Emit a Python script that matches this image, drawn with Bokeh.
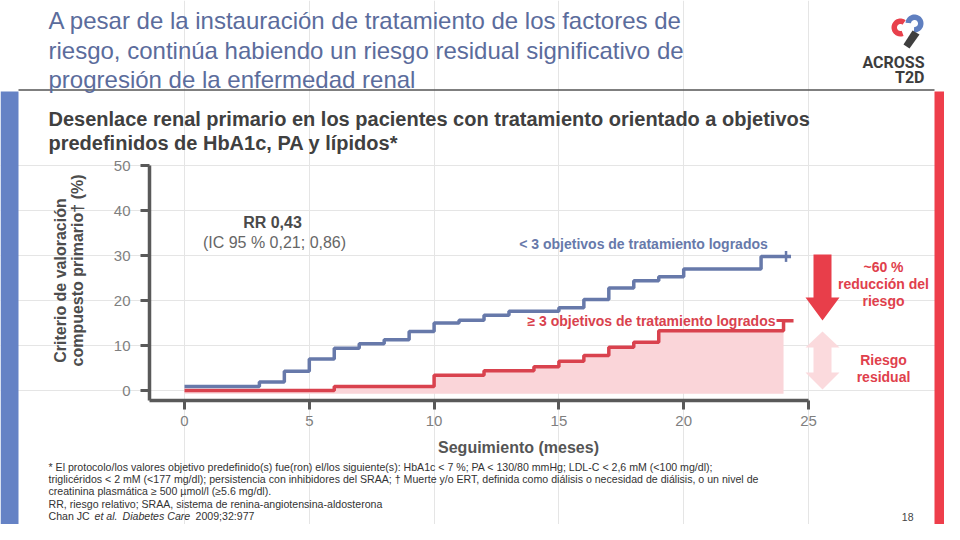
import numpy as np
from bokeh.plotting import figure
from bokeh.models import Range1d, LinearAxis, FixedTicker
from bokeh.core.properties import value
from bokeh.embed import file_html
from bokeh.resources import INLINE

# ---------------- data ----------------
months_lt3 = [0, 3, 4, 5, 6, 7, 8, 9, 10, 11, 12, 13, 15, 16, 17, 18, 19, 20, 23.1, 24.3]
pct_lt3 = [0.9, 1.9, 4.3, 7.0, 9.4, 10.4, 11.3, 13.1, 15.0, 15.6, 16.7, 17.6, 18.4, 20.2,
           22.8, 24.4, 25.3, 27.0, 29.8, 29.8]
months_ge3 = [0, 6, 10, 12, 14, 15, 16, 17, 18, 19, 24.0, 24.4]
pct_ge3 = [0.0, 0.9, 3.4, 4.4, 5.3, 6.5, 7.8, 9.6, 10.7, 13.3, 15.5, 15.5]
censor_months = [24.1]
censor_pct = [29.8]
x_ticks = [0, 5, 10, 15, 20, 25]
y_ticks = [0, 10, 20, 30, 40, 50]
fill_floor = -0.7

# ---------------- geometry ----------------
W, H = 944, 524
OFF = 0  # reference pixel -> canvas pixel
X0_REF, X25_REF = 184, 808
Y0_REF, Y50_REF = 390, 165
sx = (X25_REF - X0_REF) / 25.0
sy = (Y0_REF - Y50_REF) / 50.0
cx0 = X0_REF - OFF
cy0 = Y0_REF - OFF


def dx(ref_px):
    return (ref_px - X0_REF) / sx


def dy(ref_py):
    return (Y0_REF - ref_py) / sy


FONT = "Liberation Sans"
TITLE_C = "#5b6c9c"
DARK = "#404040"
AXIS_C = "#595959"
BLUE = "#6779aa"
RED = "#d9424e"
FILL = "#fad5d9"
ARROW_RED = "#e83e4a"
ARROW_PINK = "#fbdadd"
STRIPE_BLUE = "#6582c5"
STRIPE_RED = "#ee3e4b"

p = figure(width=W, height=H,
           x_range=Range1d(-cx0 / sx, (W - cx0) / sx),
           y_range=Range1d(-(H - cy0) / sy, cy0 / sy),
           min_border=0, toolbar_location=None, output_backend="svg",
           x_axis_location=None, y_axis_location=None)
p.outline_line_color = None
p.background_fill_color = "white"
p.border_fill_color = "white"
p.extra_x_ranges = {"px": Range1d(0, W)}
p.extra_y_ranges = {"px": Range1d(H, 0)}

PX = dict(x_range_name="px", y_range_name="px")


def R(v):
    return v - OFF


def txt(x, y, s, size, color, style="normal", align="left", baseline="middle",
        font=FONT, angle=0.0):
    p.text(x=[R(x)], y=[R(y)], text=[s], text_font=value(font),
           text_font_size=f"{size}px", text_font_style=style, text_color=color,
           text_align=align, text_baseline=baseline, angle=angle, **PX)


def poly(pts, color):
    xs = [R(a) for a, b in pts]
    ys = [R(b) for a, b in pts]
    p.patch(xs, ys, fill_color=color, line_color=None, **PX)


# ---------------- page decorations ----------------
p.quad(left=[R(0)], right=[R(18)], top=[R(91)], bottom=[R(545)],
       fill_color=STRIPE_BLUE, line_color=None, **PX)
p.quad(left=[R(934)], right=[R(965)], top=[R(91)], bottom=[R(545)],
       fill_color=STRIPE_RED, line_color=None, **PX)
p.segment(x0=[R(18)], y0=[R(89.5)], x1=[R(934)], y1=[R(89.5)],
          line_color="#555555", line_width=1.5, **PX)

# title
for i, line in enumerate(["A pesar de la instauración de tratamiento de los factores de",
                          "riesgo, continúa habiendo un riesgo residual significativo de",
                          "progresión de la enfermedad renal"]):
    txt(48, 20 + i * 29.5, line, 24, TITLE_C)

# logo
def ring(cx, cy, r1, r2, a0, a1, n=40):
    a = np.radians(np.linspace(a0, a1, n))
    outer = [(cx + r2 * np.cos(t), cy - r2 * np.sin(t)) for t in a]
    inner = [(cx + r1 * np.cos(t), cy - r1 * np.sin(t)) for t in a[::-1]]
    return outer + inner


poly(ring(900, 27, 3.5, 9, 55, 290), "#e8404c")
poly(ring(914, 23, 3.5, 9, -95, 175), "#5f7fc0")
poly([(912, 30), (919, 34), (909, 48), (903, 44)], "#3f3f3f")
txt(924, 62, "ACROSS", 16, "#3d3d3d", style="bold", align="right", font="Roboto")
txt(924, 77, "T2D", 16, "#3d3d3d", style="bold", align="right", font="Roboto")

# subtitle
txt(48, 118, "Desenlace renal primario en los pacientes con tratamiento orientado a objetivos",
    20, DARK, style="bold")
txt(48, 142, "predefinidos de HbA1c, PA y lípidos*", 20, DARK, style="bold")

# y axis title (rotated)
txt(60, 280, "Criterio de valoración", 16, "#4d4d4d", style="bold", align="center",
    angle=np.pi / 2)
txt(77, 270, "compuesto primario† (%)", 16, "#4d4d4d", style="bold", align="center",
    angle=np.pi / 2)

# ---------------- chart ----------------
p.varea_step(x=months_ge3[:-1], y1=[fill_floor] * (len(months_ge3) - 1),
             y2=pct_ge3[:-1], step_mode="after", fill_color=FILL)
p.step(months_ge3, pct_ge3, mode="after", line_color=RED, line_width=3.5)
p.step(months_lt3, pct_lt3, mode="after", line_color=BLUE, line_width=3.5)
p.scatter(censor_months, censor_pct, marker="dash", angle=np.pi / 2, size=11,
          line_color=BLUE, line_width=2.5)

axis_style = dict(axis_line_color=AXIS_C, axis_line_width=3.5,
                  major_tick_line_color=AXIS_C, major_tick_line_width=3,
                  major_tick_out=9, major_tick_in=0, minor_tick_line_color=None,
                  major_label_text_font=FONT, major_label_text_font_size="15px",
                  major_label_text_color="#7f7f7f")
yax = LinearAxis(fixed_location=dx(149), bounds=(dy(400), 50),
                 ticker=FixedTicker(ticks=y_ticks), major_label_standoff=10, **axis_style)
xax = LinearAxis(fixed_location=dy(400), bounds=(dx(149), 25),
                 ticker=FixedTicker(ticks=x_ticks), major_label_standoff=6, **axis_style)
p.add_layout(yax, "left")
p.add_layout(xax, "below")

# chart annotations
txt(272, 222, "RR 0,43", 16, "#4a4a4a", style="bold", align="center")
txt(274, 242, "(IC 95 % 0,21; 0,86)", 16, "#666666", align="center")
txt(643, 243, "< 3 objetivos de tratamiento logrados", 14, BLUE, style="bold", align="center")
txt(775, 320, "≥ 3 objetivos de tratamiento logrados", 14, RED, style="bold", align="right")
p.segment(x0=[R(776)], y0=[R(320)], x1=[R(784)], y1=[R(320)], line_color=RED,
          line_width=3, **PX)

# arrows
poly([(813, 254), (831, 254), (831, 297), (839, 297), (822, 320), (805, 297), (813, 297)],
     ARROW_RED)
poly([(822, 331), (839, 347), (831, 347), (831, 372), (839, 372), (822, 389),
      (805, 372), (813, 372), (813, 347), (805, 347)], ARROW_PINK)
for i, s in enumerate(["~60 %", "reducción del", "riesgo"]):
    txt(883, 266 + i * 17, s, 14, "#e0404c", style="bold", align="center")
for i, s in enumerate(["Riesgo", "residual"]):
    txt(883, 359 + i * 17, s, 14, "#e0404c", style="bold", align="center")

# x axis title
txt(518, 447, "Seguimiento (meses)", 16, "#555555", style="bold", align="center")

# footnotes
foot = ["* El protocolo/los valores objetivo predefinido(s) fue(ron) el/los siguiente(s): HbA1c < 7 %; PA < 130/80 mmHg; LDL-C < 2,6 mM (<100 mg/dl);",
        "triglicéridos < 2 mM (<177 mg/dl); persistencia con inhibidores del SRAA; † Muerte y/o ERT, definida como diálisis o necesidad de diálisis, o un nivel de",
        "creatinina plasmática ≥ 500 µmol/l (≥5.6 mg/dl).",
        "RR, riesgo relativo; SRAA, sistema de renina-angiotensina-aldosterona"]
FS = 10.6
LS = 12.4
Y1 = 466
for i, s in enumerate(foot):
    txt(48, Y1 + i * LS, s, FS, "#333333")
yl = Y1 + 4 * LS
txt(48, yl, "Chan JC", FS, "#333333")
txt(94, yl, "et al.", FS, "#333333", style="italic")
txt(122, yl, "Diabetes Care", FS, "#333333", style="italic")
txt(195, yl, "2009;32:977", FS, "#333333")
txt(913, 516, "18", 10.5, "#444444", align="right")

open("out.html", "w").write(file_html(p, INLINE))
